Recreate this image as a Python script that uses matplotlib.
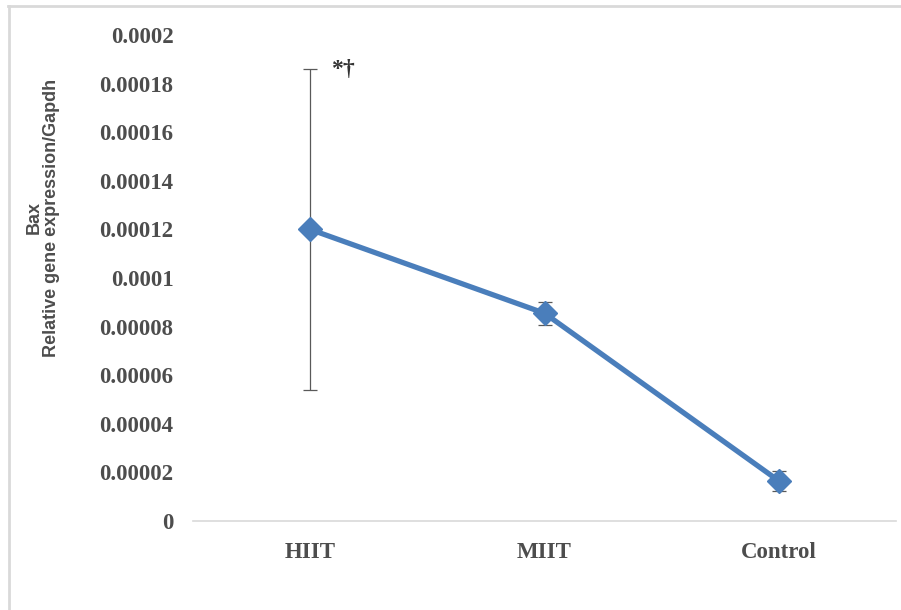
import matplotlib
matplotlib.use("Agg")
import matplotlib.pyplot as plt
from matplotlib.lines import Line2D

categories = ["HIIT", "MIIT", "Control"]
values = [0.000120, 0.0000855, 0.0000165]
errors = [0.000066, 0.0000048, 0.000004]
yticks = [0, 0.00002, 0.00004, 0.00006, 0.00008, 0.0001, 0.00012, 0.00014, 0.00016, 0.00018, 0.0002]
ytick_labels = ["0", "0.00002", "0.00004", "0.00006", "0.00008", "0.0001", "0.00012",
                "0.00014", "0.00016", "0.00018", "0.0002"]
annotation = "*\u2020"

blue = "#4a7ebb"
txt = "#4d4d4d"
serif = ["Liberation Serif", "DejaVu Serif"]

fig = plt.figure(figsize=(9.01, 6.10), dpi=100)
ax = fig.add_axes([193/901, (610-521)/610, (896-193)/901, (521-35)/610])

x = list(range(len(categories)))
ax.errorbar(x, values, yerr=errors, fmt="none", ecolor="#595959", elinewidth=0.9,
            capsize=5, capthick=0.9, zorder=2)
ax.plot(x, values, color=blue, linewidth=3.8, marker="D", markersize=12,
        markerfacecolor=blue, markeredgecolor=blue, zorder=3)

ax.set_xlim(-0.5, 2.5)
ax.set_ylim(0, 0.0002)
ax.set_yticks(yticks)
ax.set_yticklabels(ytick_labels, fontfamily=serif, fontweight="bold", fontsize=16.5, color=txt)
ax.set_xticks(x)
ax.set_xticklabels(categories, fontfamily=serif, fontweight="bold", fontsize=16.5, color=txt)
ax.tick_params(axis="y", length=0, pad=14)
ax.tick_params(axis="x", length=0, pad=15)

for s in ["top", "right", "left"]:
    ax.spines[s].set_visible(False)
ax.spines["bottom"].set_color("#d9d9d9")
ax.spines["bottom"].set_linewidth(1.2)

ax.set_ylabel("Bax\nRelative gene expression/Gapdh", fontfamily=["Liberation Sans", "DejaVu Sans"],
              fontweight="bold", fontsize=13, color=txt, multialignment="center", linespacing=1.05)
ax.yaxis.set_label_coords((60 - 193) / 703, (521 - 218) / 486)

ax.text(0.088, 0.000186, annotation, fontfamily=serif, fontweight="bold", fontsize=17,
        color="#333333", ha="left", va="center")

# chart area border (top and left visible)
fig.add_artist(Line2D([8/901, 1.0], [1 - 6/610, 1 - 6/610], transform=fig.transFigure,
                      color="#d9d9d9", linewidth=2))
fig.add_artist(Line2D([8.5/901, 8.5/901], [0, 1 - 6/610], transform=fig.transFigure,
                      color="#d9d9d9", linewidth=2))

fig.savefig("out.png", dpi=100)
